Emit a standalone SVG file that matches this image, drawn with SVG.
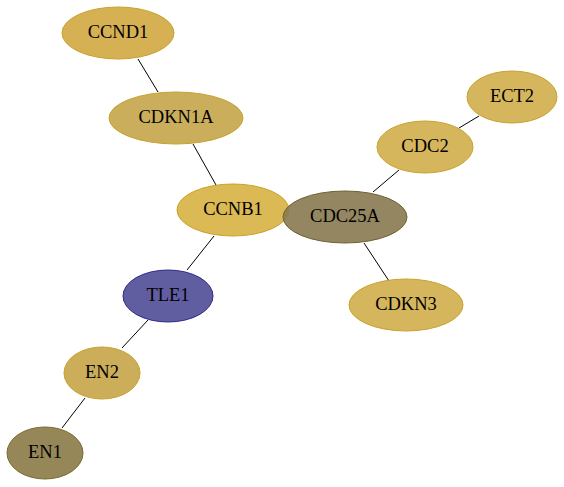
<svg xmlns="http://www.w3.org/2000/svg" width="564" height="487" viewBox="0 0 564 487">
<style>
.e{stroke:#000;stroke-width:1;fill:none}
.n ellipse{stroke-width:1}
.g ellipse{stroke:#c9a22c}
.t{font-family:"Liberation Serif","Times New Roman",serif;font-size:18.5px;fill:#000;text-anchor:middle;dominant-baseline:central}
</style>
<rect width="564" height="487" fill="#fff"/>
<g id="edges">
<line class="e" x1="138" y1="59" x2="158" y2="92"/>
<line class="e" x1="193" y1="144" x2="216" y2="185"/>
<line class="e" x1="214" y1="236" x2="187" y2="270"/>
<line class="e" x1="148" y1="320" x2="122" y2="348"/>
<line class="e" x1="85" y1="398" x2="62" y2="428"/>
<line class="e" x1="373" y1="192" x2="399" y2="170"/>
<line class="e" x1="459" y1="128" x2="479" y2="116"/>
<line class="e" x1="364" y1="243" x2="389" y2="281"/>
</g>
<g id="CCND1" class="n g"><ellipse cx="118" cy="33" rx="56" ry="26" fill="#d5b153"/><text class="t" x="118" y="32">CCND1</text></g>
<g id="CDKN1A" class="n g"><ellipse cx="176" cy="118" rx="67" ry="26" fill="#cbae5c"/><text class="t" x="176" y="117">CDKN1A</text></g>
<g id="CCNB1" class="n g"><ellipse cx="233" cy="210" rx="56" ry="26" fill="#dbb955"/><text class="t" x="233" y="209">CCNB1</text></g>
<g id="CDC25A" class="n"><ellipse cx="345" cy="217" rx="62" ry="26" fill="#887950" fill-opacity="0.9" stroke="#6f6130"/><text class="t" x="345" y="216">CDC25A</text></g>
<g id="CDC2" class="n g"><ellipse cx="425" cy="147" rx="48" ry="26" fill="#d6b65d"/><text class="t" x="425" y="146">CDC2</text></g>
<g id="ECT2" class="n g"><ellipse cx="512" cy="97" rx="45" ry="26" fill="#d6b65d"/><text class="t" x="512" y="96">ECT2</text></g>
<g id="CDKN3" class="n g"><ellipse cx="406" cy="305" rx="57" ry="26" fill="#d6b65d"/><text class="t" x="406" y="304">CDKN3</text></g>
<g id="TLE1" class="n"><ellipse cx="168" cy="296" rx="45" ry="26" fill="#605ea0" stroke="#2e2a86"/><text class="t" x="168" y="295">TLE1</text></g>
<g id="EN2" class="n g"><ellipse cx="102" cy="373" rx="38" ry="26" fill="#cbad5a"/><text class="t" x="102" y="372">EN2</text></g>
<g id="EN1" class="n"><ellipse cx="45" cy="453" rx="38" ry="26" fill="#958758" stroke="#7a6a30"/><text class="t" x="45" y="452">EN1</text></g>
</svg>
